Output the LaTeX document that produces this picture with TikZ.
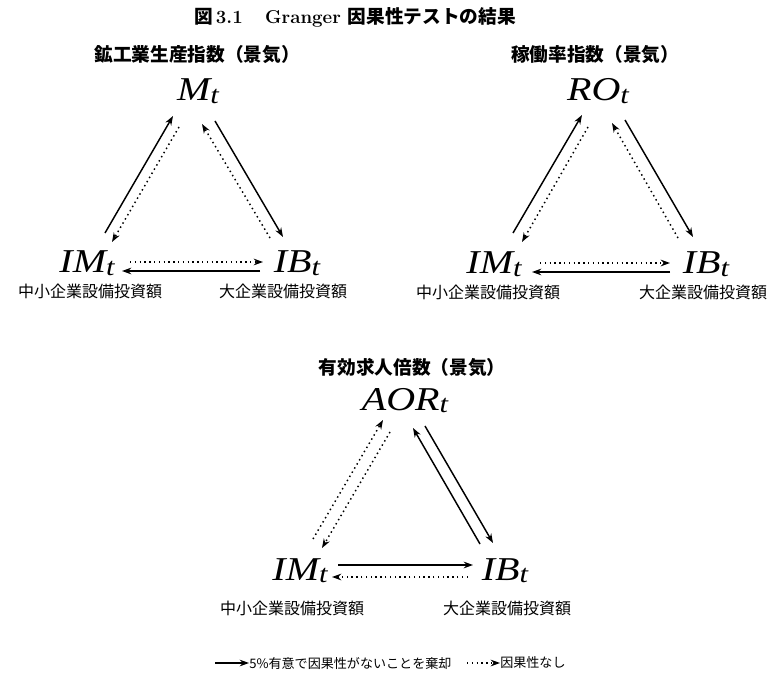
\documentclass[tikz,border=0pt]{standalone}
\usepackage{fontspec}
\usetikzlibrary{arrows.meta,calc}
\newfontfamily\jp{Noto Sans CJK JP}
\newfontfamily\tms{Liberation Serif}
\newcommand{\vrb}[2]{{\tms\itshape #1\raisebox{-2pt}{\fontsize{19pt}{19pt}\selectfont #2}}}
\tikzset{
  vlab/.style={font=\fontsize{25pt}{25pt}\selectfont, anchor=base, inner sep=0pt, xscale=1.2},
  hdr/.style={font=\jp\bfseries\fontsize{14pt}{14pt}\selectfont, inner sep=0pt},
  sub/.style={font=\jp\fontsize{12pt}{12pt}\selectfont, inner sep=0pt},
  sol/.style={line width=1.1pt, -{Stealth[length=7pt,width=5pt]}},
  dot/.style={line width=1.1pt, dash pattern=on 1.1pt off 2.5pt, -{Stealth[length=7pt,width=5pt]}},
}
\begin{document}
\begin{tikzpicture}[x=0.75pt,y=-0.75pt]
\useasboundingbox (0,0) rectangle (774,673);
% title
\node[inner sep=0pt, font=\fontsize{14pt}{14pt}\selectfont\bfseries] (title) at (355,17)
  {{\jp\bfseries 図}\,3.1\hspace{1.2em}Granger {\jp\bfseries 因果性テストの結果}};

% ---------- diagram 1 ----------
\node[hdr] (h1) at (197,55) {鉱工業生産指数（景気）};
\node[vlab] (M1) at (198,101) {\vrb{M}{t}};
\node[vlab] (IM1) at (87,273) {\vrb{IM}{t}};
\node[vlab] (IB1) at (297,273) {\vrb{IB}{t}};
\node[sub] (l1a) at (90,291) {中小企業設備投資額};
\node[sub] (l1b) at (283,291) {大企業設備投資額};
\draw[sol] ($(IM1.base)+(18,-40)$) -- ($(M1.base)+(-25,15)$);
\draw[dot] ($(M1.base)+(-19,26)$) -- ($(IM1.base)+(25,-31)$);
\draw[sol] ($(M1.base)+(17,20)$) -- ($(IB1.base)+(-14,-36)$);
\draw[dot] ($(IB1.base)+(-27,-35)$) -- ($(M1.base)+(4,23)$);
\draw[dot] ($(IM1.base)+(43,-11)$) -- ($(IB1.base)+(-34,-11)$);
\draw[sol] ($(IB1.base)+(-37,-2)$) -- ($(IM1.base)+(35,-2)$);

% ---------- diagram 2 ----------
\node[hdr] (h2) at (595,55) {稼働率指数（景気）};
\node[vlab] (RO2) at (598,101) {\vrb{RO}{t}};
\node[vlab] (IM2) at (494,274) {\vrb{IM}{t}};
\node[vlab] (IB2) at (706,274) {\vrb{IB}{t}};
\node[sub] (l2a) at (488,292) {中小企業設備投資額};
\node[sub] (l2b) at (703,292) {大企業設備投資額};
\draw[sol] ($(IM2.base)+(19,-41)$) -- ($(RO2.base)+(-16,14)$);
\draw[dot] ($(RO2.base)+(-10,26)$) -- ($(IM2.base)+(28,-32)$);
\draw[sol] ($(RO2.base)+(27,19)$) -- ($(IB2.base)+(-13,-37)$);
\draw[dot] ($(IB2.base)+(-28,-36)$) -- ($(RO2.base)+(14,22)$);
\draw[dot] ($(IM2.base)+(46,-11)$) -- ($(IB2.base)+(-36,-11)$);
\draw[sol] ($(IB2.base)+(-36,-2)$) -- ($(IM2.base)+(38,-2)$);

% ---------- diagram 3 ----------
\node[hdr] (h3) at (412,367) {有効求人倍数（景気）};
\node[vlab] (AOR3) at (405,410) {\vrb{AOR}{t}};
\node[vlab] (IM3) at (300,580) {\vrb{IM}{t}};
\node[vlab] (IB3) at (505,580) {\vrb{IB}{t}};
\node[sub] (l3a) at (292,608) {中小企業設備投資額};
\node[sub] (l3b) at (507,608) {大企業設備投資額};
\draw[dot] ($(IM3.base)+(13,-41)$) -- ($(AOR3.base)+(-22,10)$);
\draw[dot] ($(AOR3.base)+(-15,22)$) -- ($(IM3.base)+(22,-32)$);
\draw[sol] ($(AOR3.base)+(20,16)$) -- ($(IB3.base)+(-12,-37)$);
\draw[sol] ($(IB3.base)+(-25,-36)$) -- ($(AOR3.base)+(8,18)$);
\draw[sol] ($(IM3.base)+(38,-15)$) -- ($(IB3.base)+(-32,-15)$);
\draw[dot] ($(IB3.base)+(-37,-3)$) -- ($(IM3.base)+(32,-3)$);

% ---------- legend ----------
\coordinate (ls0) at (215,663);
\node[inner sep=0pt, anchor=west, font=\jp\fontsize{9.8pt}{9.8pt}\selectfont] (lt1) at (249,663) {5\%有意で因果性がないことを棄却};
\draw[sol, line width=0.9pt] (ls0) -- (lt1.west);
\coordinate (ld0) at (467,663);
\node[inner sep=0pt, anchor=west, font=\jp\fontsize{9.8pt}{9.8pt}\selectfont] (lt2) at (500,663) {因果性なし};
\draw[dot, line width=0.9pt] (ld0) -- (lt2.west);
\end{tikzpicture}
\end{document}
